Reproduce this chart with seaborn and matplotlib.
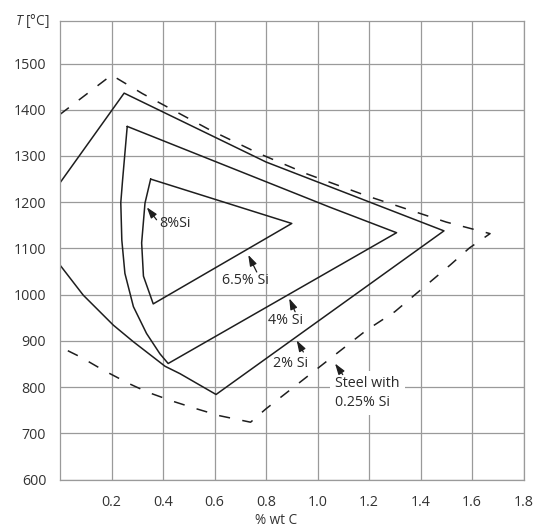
import numpy as np
import pandas as pd
import matplotlib
matplotlib.use('Agg')
import matplotlib.pyplot as plt
import seaborn as sns

# % wt C / temperature
steel_c = [0.0, 0.20, 0.32, 0.58, 0.77, 0.96, 1.19, 1.50, 1.67,
           1.59, 1.515, 1.30, 1.19, 1.05, 0.80, 0.74, 0.62, 0.53,
           0.44, 0.34, 0.27, 0.17, 0.08, 0.0]
steel_t = [1390, 1475, 1435, 1357, 1306, 1261, 1214, 1157, 1132,
           1101, 1064, 963, 923, 862, 753, 724, 738, 753,
           769, 789, 807, 836, 865, 887]

si2_c = [0.0, 0.249, 0.80, 1.491, 0.606,
         0.466, 0.408, 0.285, 0.207, 0.09, 0.0]
si2_t = [1242, 1436, 1287, 1138, 784,
         829, 845, 898, 934, 999, 1064]

si4_c = [0.261, 1.049, 1.307, 0.42, 0.388, 0.336,
         0.285, 0.252, 0.24, 0.236, 0.243, 0.261]
si4_t = [1364, 1189, 1134, 851, 872, 916,
         974, 1046, 1118, 1199, 1248, 1364]

si65_c = [0.352, 0.90, 0.362, 0.324, 0.317, 0.33, 0.352]
si65_t = [1250, 1154, 980, 1040, 1112, 1198, 1250]

x_ticks = [0.2, 0.4, 0.6, 0.8, 1.0, 1.2, 1.4, 1.6, 1.8]
x_labels = ['0.2', '0.4', '0.6', '0.8', '1.0', '1.2', '1.4', '1.6', '1.8']
y_ticks = [600, 700, 800, 900, 1000, 1100, 1200, 1300, 1400, 1500]

label_texts = ['8%Si', '6.5% Si', '4% Si', '2% Si', 'Steel with\n0.25% Si']

sns.set_theme(style='whitegrid')
plt.rcParams['font.family'] = ['Open Sans', 'DejaVu Sans']
plt.rcParams['mathtext.fontset'] = 'custom'
plt.rcParams['mathtext.it'] = 'Open Sans:italic'
plt.rcParams['mathtext.rm'] = 'Open Sans'
plt.rcParams['lines.scale_dashes'] = False

fig = plt.figure(figsize=(5.33, 5.27), dpi=100)
ax = fig.add_axes([0.1126, 0.0901, 0.8696, 0.870])

ink = '#1e1e1e'
curves = [(si2_c, si2_t), (si4_c, si4_t), (si65_c, si65_t)]
for cc, tt in curves:
    df = pd.DataFrame({'c': cc, 't': tt})
    sns.lineplot(data=df, x='c', y='t', sort=False, estimator=None,
                 color=ink, lw=1.1, ax=ax)

df = pd.DataFrame({'c': steel_c, 't': steel_t})
sns.lineplot(data=df, x='c', y='t', sort=False, estimator=None,
             color=ink, lw=1.1, dashes=False, ax=ax)
ax.lines[-1].set_dashes((8, 9))

# label positions (text) and arrows (tail -> head)
text_pos = [(0.386, 1154, 'left'), (0.72, 1030, 'center'), (0.877, 945, 'center'),
            (0.896, 851, 'center'), (1.068, 787, 'left')]
arrows = [((0.375, 1162), (0.337, 1189)), ((0.764, 1049), (0.731, 1086)),
          ((0.913, 963), (0.890, 992)), ((0.945, 876), (0.919, 901)),
          ((1.098, 827), (1.068, 851))]

for i, lab in enumerate(label_texts):
    x, y, ha = text_pos[i]
    kw = {}
    if i == 4:
        kw['bbox'] = dict(boxstyle='square,pad=0.35', fc='white', ec='none')
    ax.text(x, y, lab, ha=ha, va='center', fontsize=10.3, color='#2a2a2a',
            linespacing=1.35, **kw)
    tail, head = arrows[i]
    ax.annotate('', xy=head, xytext=tail,
                arrowprops=dict(arrowstyle='-|>,head_length=0.55,head_width=0.18',
                                color=ink, lw=0.9, shrinkA=0, shrinkB=0))

ax.set_xlim(0, 1.8)
ax.set_ylim(600, 1592)
ax.set_xticks(x_ticks)
ax.set_xticklabels(x_labels)
ax.set_yticks(y_ticks)
ax.tick_params(axis='x', length=0, pad=11, labelsize=10.3, labelcolor='#333333')
ax.tick_params(axis='y', length=0, pad=10, labelsize=10.3, labelcolor='#333333')
ax.grid(True, color='#9a9a9a', lw=0.9)
for s in ax.spines.values():
    s.set_color('#9a9a9a')
    s.set_linewidth(0.9)

ax.set_xlabel('% wt C', fontsize=9.8, color='#333333')
ax.xaxis.set_label_coords(0.466, -0.072)
ax.set_ylabel('')
ax.text(-0.097, 1.0, '$T$ [°C]', transform=ax.transAxes, ha='left', va='center',
        fontsize=9.8, color='#333333')

fig.savefig('out.png', dpi=100)
